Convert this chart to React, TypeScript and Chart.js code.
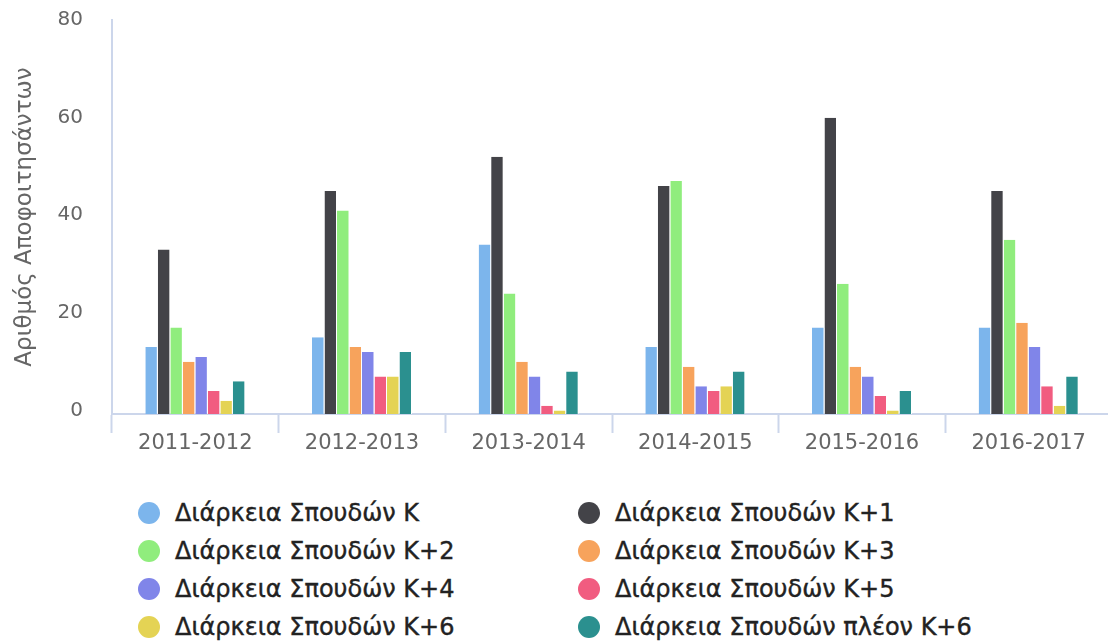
import React, { useEffect, useRef } from "react";
import { Chart, registerables } from "chart.js";

Chart.register(...registerables);

const categories = ["2011-2012", "2012-2013", "2013-2014", "2014-2015", "2015-2016", "2016-2017"];

const seriesNames = [
  "Διάρκεια Σπουδών Κ",
  "Διάρκεια Σπουδών Κ+1",
  "Διάρκεια Σπουδών Κ+2",
  "Διάρκεια Σπουδών Κ+3",
  "Διάρκεια Σπουδών Κ+4",
  "Διάρκεια Σπουδών Κ+5",
  "Διάρκεια Σπουδών Κ+6",
  "Διάρκεια Σπουδών πλέον Κ+6",
];

const seriesColors = ["#7cb5ec", "#434348", "#90ed7d", "#f7a35c", "#8085e9", "#f15c80", "#e4d354", "#2b908f"];

const kValues = [13, 15, 34, 13, 17, 17];
const k1Values = [33, 45, 52, 46, 60, 45];
const k2Values = [17, 41, 24, 47, 26, 35];
const k3Values = [10, 13, 10, 9, 9, 18];
const k4Values = [11, 12, 7, 5, 7, 13];
const k5Values = [4, 7, 1, 4, 3, 5];
const k6Values = [2, 7, 0, 5, 0, 1];
const k6PlusValues = [6, 12, 8, 8, 4, 7];

const seriesValues = [kValues, k1Values, k2Values, k3Values, k4Values, k5Values, k6Values, k6PlusValues];

const yTicks = [0, 20, 40, 60, 80];
const yTitle = "Αριθμός Αποφοιτησάντων";

const AXIS_COLOR = "#ccd6eb";
const LABEL_COLOR = "#666666";
const FONT = "'DejaVu Sans', sans-serif";
const BASE = -0.7;

export default function App() {
  const canvasRef = useRef<HTMLCanvasElement | null>(null);

  useEffect(() => {
    const canvas = canvasRef.current;
    if (!canvas) return;
    const chart = new Chart(canvas, {
      type: "bar",
      data: {
        labels: categories,
        datasets: seriesNames.map((name, i) => ({
          label: name,
          data: seriesValues[i],
          backgroundColor: seriesColors[i],
          borderColor: "#ffffff",
          borderWidth: { top: 0, left: 0, right: 1, bottom: 0 },
          base: BASE,
          categoryPercentage: 0.6,
          barPercentage: 1.0,
        })),
      },
      options: {
        animation: false,
        responsive: false,
        maintainAspectRatio: false,
        layout: { padding: { top: 20, left: 0, right: 0, bottom: 0 } },
        plugins: {
          legend: { display: false },
          tooltip: { enabled: false },
          title: { display: false },
        },
        scales: {
          x: {
            offset: true,
            grid: {
              display: true,
              drawOnChartArea: false,
              drawTicks: true,
              tickLength: 19,
              tickColor: AXIS_COLOR,
              tickWidth: 2,
              offset: true,
              color: AXIS_COLOR,
            },
            border: { display: true, color: AXIS_COLOR, width: 2 },
            ticks: {
              color: LABEL_COLOR,
              font: { family: FONT, size: 21 },
              padding: -2,
              maxRotation: 0,
              autoSkip: false,
            },
            afterFit: (scale: any) => {
              scale.height = 66;
            },
          },
          y: {
            min: BASE,
            max: 80,
            grid: { display: false, drawTicks: false },
            border: { display: true, color: AXIS_COLOR, width: 2 },
            afterBuildTicks: (scale: any) => {
              scale.ticks = yTicks.map((v) => ({ value: v }));
            },
            ticks: {
              color: LABEL_COLOR,
              font: { family: FONT, size: 20 },
              padding: 29,
            },
            title: {
              display: true,
              text: yTitle,
              color: LABEL_COLOR,
              font: { family: FONT, size: 23 },
              padding: { top: 11, bottom: 0 },
            },
            afterFit: (scale: any) => {
              scale.width = 112;
              scale.paddingTop = 8;
              scale.paddingBottom = 8;
            },
          },
        },
      },
    });
    return () => chart.destroy();
  }, []);

  const rowTops = [513, 551, 589, 627];
  const colMarkerX = [149, 589];
  const colTextX = [175, 615];

  return (
    <div style={{ position: "absolute", left: 0, top: 0, width: 1108, height: 643, overflow: "hidden", background: "#ffffff" }}>
      <canvas ref={canvasRef} width={1112} height={480} style={{ position: "absolute", left: 0, top: 0, width: 1112, height: 480 }} />
      {seriesNames.map((name, i) => {
        const row = Math.floor(i / 2);
        const col = i % 2;
        const cy = rowTops[row];
        return (
          <div key={name}>
            <div
              style={{
                position: "absolute",
                left: colMarkerX[col] - 11,
                top: cy - 11,
                width: 22,
                height: 22,
                borderRadius: "50%",
                background: seriesColors[i],
              }}
            />
            <div
              style={{
                position: "absolute",
                left: colTextX[col],
                top: cy - 15,
                height: 30,
                lineHeight: "30px",
                fontFamily: FONT,
                fontSize: 24,
                fontWeight: 400,
                color: "#222222",
                whiteSpace: "nowrap",
                WebkitTextStroke: "0.4px #222222",
              }}
            >
              {name}
            </div>
          </div>
        );
      })}
    </div>
  );
}
